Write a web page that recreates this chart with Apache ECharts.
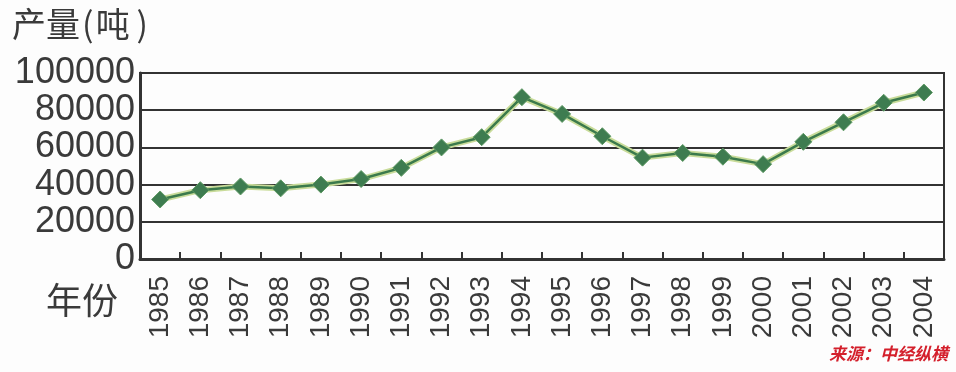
<!DOCTYPE html>
<html><head><meta charset="utf-8">
<script src="https://cdn.jsdelivr.net/npm/echarts@6/dist/echarts.min.js"></script>
<style>html,body{margin:0;padding:0;background:#fdfdfd}#c{width:956px;height:372px}</style>
</head><body><div id="c"></div>
<script>
const years = ['1985','1986','1987','1988','1989','1990','1991','1992','1993','1994','1995','1996','1997','1998','1999','2000','2001','2002','2003','2004'];
const output = [32000,37000,39000,38000,40000,43000,49000,60000,65500,87000,78000,66000,54500,57000,55000,51000,63000,73500,84000,89500];
const yTicks = [0,20000,40000,60000,80000,100000];
const yTitle = '产量\u200a(\u200a吨\u2009)';
const xTitle = '年份';
const source = '来源：中经纵横';

const chart = echarts.init(document.getElementById('c'));
const numFont = '"Liberation Sans",Arial,sans-serif';
chart.setOption({
  backgroundColor: '#fdfdfd',
  animation: false,
  grid: {left: 140, right: 12, top: 73, bottom: 113, show: true, borderColor: '#333', borderWidth: 2},
  xAxis: {
    type: 'category', data: years, boundaryGap: true,
    axisLine: {lineStyle: {color: '#333', width: 3}},
    axisTick: {show: true, inside: true, length: 7, interval: 0, lineStyle: {color: '#333', width: 2}},
    axisLabel: {rotate: 90, margin: 17, interval: 0, hideOverlap: false, color: '#3a3a3a', fontSize: 28, fontFamily: numFont}
  },
  yAxis: {
    type: 'value', min: 0, max: 100000, interval: 20000,
    axisLine: {show: true, lineStyle: {color: '#333', width: 3}},
    axisTick: {show: false},
    splitLine: {lineStyle: {color: '#333', width: 2}},
    axisLabel: {margin: 5, color: '#3a3a3a', fontSize: 36, fontFamily: numFont,
      showMinLabel: true, showMaxLabel: true, hideOverlap: false,
      formatter: v => yTicks.includes(v) ? String(v) : ''}
  },
  series: [
    {type: 'line', data: output, symbol: 'none', lineStyle: {color: '#c9dc9a', width: 6}, z: 2, silent: true},
    {type: 'line', data: output, symbol: 'diamond', symbolSize: 17,
     itemStyle: {color: '#3e7c50', borderColor: '#5f9a64', borderWidth: 1},
     lineStyle: {color: '#3b7a4c', width: 2.5}, z: 3}
  ],
  graphic: [
    {type: 'text', left: 12, top: 7, style: {text: yTitle, font: '34px "Noto Sans CJK SC"', fill: '#3a3a3a'}},
    {type: 'text', left: 46, top: 282, style: {text: xTitle, font: '36px "Noto Sans CJK SC"', fill: '#3a3a3a'}},
    {type: 'text', right: 8, top: 345, style: {text: source, font: 'italic bold 17px "Noto Sans CJK SC"', fill: '#d4202c'}}
  ]
});
</script></body></html>
